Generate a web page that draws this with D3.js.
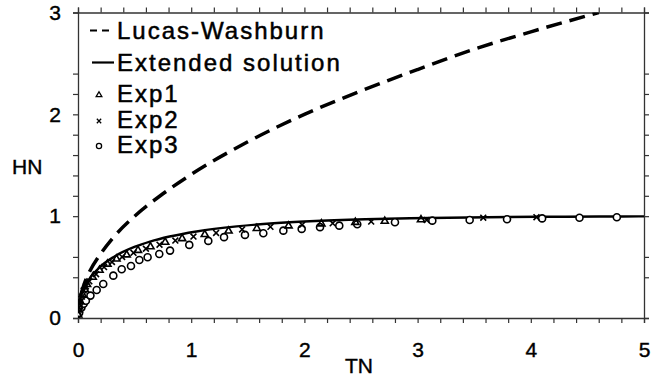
<!DOCTYPE html>
<html lang="en">
  <head>
    <meta charset="utf-8">
    <title>HN vs TN</title>
    <script src="https://cdn.jsdelivr.net/npm/d3@7"></script>
    <style>
      body { margin: 0; background: #fff; }
      text { font-family: "Liberation Sans", Arial, sans-serif; fill: #000; }
    </style>
  </head>
  <body>
    <script>
      var w = 655;
      var h = 376;

      // tick labels
      var xTickLabels = [0, 1, 2, 3, 4, 5];
      var yTickLabels = [0, 1, 2, 3];
      var yMinorTicks = [0, 0.4, 0.6, 1, 1.2, 1.4, 1.6, 1.8, 2, 2.2, 2.4, 3];

      // Lucas-Washburn curve
      var lwT = [0, 0.01, 0.03, 0.06, 0.1, 0.2, 0.3, 0.5, 0.75, 1, 1.5, 2, 2.5, 3, 3.5, 4, 4.6];
      var lwH = [0, 0.14, 0.245, 0.35, 0.45, 0.63, 0.775, 1.0, 1.22, 1.41, 1.73, 2.0, 2.23, 2.44, 2.64, 2.81, 3.0];

      // extended solution
      var extT = [0, 0.005, 0.023, 0.057, 0.111, 0.193, 0.316, 0.504, 0.636, 0.809, 1.047, 1.403, 1.729, 2.046, 2.537, 2.932, 3.615, 4.303, 4.812, 5];
      var extH = [0, 0.1, 0.2, 0.3, 0.4, 0.5, 0.6, 0.7, 0.75, 0.8, 0.85, 0.9, 0.93, 0.95, 0.97, 0.98, 0.99, 0.995, 0.997, 0.998];

      // experiments
      var exp1T = [0.002, 0.006, 0.01, 0.02, 0.04, 0.06, 0.08, 0.13, 0.19, 0.26, 0.34, 0.43, 0.53, 0.64, 0.77, 0.92, 1.12, 1.33, 1.58, 1.86, 2.15, 2.45, 2.71, 3.03];
      var exp1H = [0.03, 0.08, 0.11, 0.16, 0.23, 0.28, 0.33, 0.40, 0.47, 0.53, 0.58, 0.62, 0.665, 0.70, 0.745, 0.78, 0.82, 0.855, 0.88, 0.905, 0.925, 0.94, 0.95, 0.965];
      var exp2T = [0.004, 0.008, 0.015, 0.02, 0.035, 0.05, 0.07, 0.1, 0.16, 0.23, 0.3, 0.39, 0.49, 0.6, 0.72, 0.86, 1.02, 1.22, 1.45, 1.7, 1.98, 2.25, 2.59, 3.08, 3.58, 4.05];
      var exp2H = [0.06, 0.1, 0.14, 0.16, 0.21, 0.27, 0.31, 0.36, 0.43, 0.5, 0.55, 0.6, 0.64, 0.68, 0.72, 0.76, 0.80, 0.835, 0.87, 0.895, 0.915, 0.93, 0.947, 0.962, 0.985, 0.99];
      var exp3T = [0.01, 0.03, 0.05, 0.07, 0.11, 0.165, 0.223, 0.312, 0.386, 0.468, 0.542, 0.615, 0.718, 0.813, 0.983, 1.151, 1.29, 1.475, 1.637, 1.814, 1.976, 2.138, 2.308, 2.467, 2.80, 3.13, 3.46, 3.79, 4.10, 4.43, 4.76];
      var exp3H = [0.05, 0.1, 0.14, 0.17, 0.22, 0.275, 0.334, 0.416, 0.479, 0.511, 0.570, 0.597, 0.629, 0.662, 0.718, 0.757, 0.794, 0.816, 0.832, 0.858, 0.875, 0.892, 0.907, 0.921, 0.94, 0.956, 0.963, 0.970, 0.978, 0.985, 0.99];

      var legendNames = ["Lucas-Washburn", "Extended solution", "Exp1", "Exp2", "Exp3"];

      var padL = 78, padR = 644, padT = 12.5, padB = 318;

      var xScale = d3.scaleLinear().domain([0, 5]).range([padL, padR]);
      var yScale = d3.scaleLinear().domain([0, 3]).range([padB, padT]);

      var svg = d3.select("body").append("svg")
        .attr("width", w)
        .attr("height", h);

      svg.append("clipPath").attr("id", "clip")
        .append("rect")
        .attr("x", padL).attr("y", padT)
        .attr("width", padR - padL).attr("height", padB - padT);

      var xMinor = d3.range(0, 26).map(function (i) { return i / 5; });
      var fmtX = function (d) { return xTickLabels.indexOf(d) >= 0 ? d : ""; };
      var fmtY = function (d) { return yTickLabels.indexOf(d) >= 0 ? d : ""; };

      var axisColor = "#333";

      var gx = svg.append("g")
        .attr("transform", "translate(0," + padB + ")")
        .call(d3.axisBottom(xScale).tickValues(xMinor).tickFormat(fmtX).tickSize(5).tickPadding(19));
      var gy = svg.append("g")
        .attr("transform", "translate(" + padL + ",0)")
        .call(d3.axisLeft(yScale).tickValues(yMinorTicks).tickFormat(fmtY).tickSize(5).tickPadding(12));
      var gt = svg.append("g")
        .attr("transform", "translate(0," + padT + ")")
        .call(d3.axisTop(xScale).tickValues(xMinor).tickFormat("").tickSize(5));
      var gr = svg.append("g")
        .attr("transform", "translate(" + padR + ",0)")
        .call(d3.axisRight(yScale).tickValues(yMinorTicks).tickFormat("").tickSize(5));

      [gx, gy, gt, gr].forEach(function (g) {
        g.selectAll(".domain").attr("stroke", axisColor).attr("stroke-width", 1.3);
        g.selectAll(".tick line").attr("stroke", axisColor).attr("stroke-width", 1.2);
        g.selectAll(".tick text")
          .attr("font-size", "21px")
          .attr("font-family", "Liberation Sans, Arial, sans-serif")
          .attr("fill", "#000")
          .attr("stroke", "#000")
          .attr("stroke-width", 0.4);
      });

      svg.append("text").attr("x", 12).attr("y", 174).attr("font-size", "21px")
        .attr("stroke", "#000").attr("stroke-width", 0.4).text("HN");
      svg.append("text").attr("x", 359).attr("y", 373).attr("text-anchor", "middle").attr("font-size", "21px")
        .attr("stroke", "#000").attr("stroke-width", 0.4).text("TN");

      var plot = svg.append("g").attr("clip-path", "url(#clip)");

      var line = d3.line()
        .x(function (d) { return xScale(d[0]); })
        .y(function (d) { return yScale(d[1]); })
        .curve(d3.curveMonotoneX);

      plot.append("path")
        .datum(d3.zip(lwT, lwH))
        .attr("d", line)
        .attr("fill", "none")
        .attr("stroke", "#000")
        .attr("stroke-width", 3.5)
        .attr("stroke-dasharray", "16,8");

      plot.append("path")
        .datum(d3.zip(extT, extH))
        .attr("d", line)
        .attr("fill", "none")
        .attr("stroke", "#000")
        .attr("stroke-width", 2.4);

      var tri = d3.symbol().type(d3.symbolTriangle).size(22);
      var cross = d3.symbol().type(d3.symbolX).size(24);

      plot.selectAll(".exp3")
        .data(d3.zip(exp3T, exp3H))
        .enter().append("circle")
        .attr("class", "exp3")
        .attr("cx", function (d) { return xScale(d[0]); })
        .attr("cy", function (d) { return yScale(d[1]); })
        .attr("r", 3.5)
        .attr("fill", "#fff")
        .attr("stroke", "#000")
        .attr("stroke-width", 1.6);

      plot.selectAll(".exp1")
        .data(d3.zip(exp1T, exp1H))
        .enter().append("path")
        .attr("class", "exp1")
        .attr("transform", function (d) { return "translate(" + xScale(d[0]) + "," + yScale(d[1]) + ")"; })
        .attr("d", tri)
        .attr("fill", "none")
        .attr("stroke", "#000")
        .attr("stroke-width", 1.6);

      plot.selectAll(".exp2")
        .data(d3.zip(exp2T, exp2H))
        .enter().append("path")
        .attr("class", "exp2")
        .attr("transform", function (d) { return "translate(" + xScale(d[0]) + "," + yScale(d[1]) + ")"; })
        .attr("d", cross)
        .attr("fill", "#000")
        .attr("stroke", "#000")
        .attr("stroke-width", 1.6);

      // legend
      var legY = [38.5, 70.5, 102, 128, 153];
      var legend = svg.append("g");
      legend.selectAll("text")
        .data(legendNames)
        .enter().append("text")
        .attr("x", 117)
        .attr("y", function (d, i) { return legY[i]; })
        .attr("font-size", "24px")
        .attr("letter-spacing", "2px")
        .attr("stroke", "#000")
        .attr("stroke-width", 0.5)
        .text(function (d) { return d; });

      legend.append("line")
        .attr("x1", 90).attr("x2", 114)
        .attr("y1", legY[0] - 8).attr("y2", legY[0] - 8)
        .attr("stroke", "#000").attr("stroke-width", 2.2)
        .attr("stroke-dasharray", "7,5");
      legend.append("line")
        .attr("x1", 92).attr("x2", 114)
        .attr("y1", legY[1] - 8).attr("y2", legY[1] - 8)
        .attr("stroke", "#000").attr("stroke-width", 2.2);
      legend.append("path")
        .attr("transform", "translate(99," + (legY[2] - 7) + ")")
        .attr("d", d3.symbol().type(d3.symbolTriangle).size(14))
        .attr("fill", "none").attr("stroke", "#000").attr("stroke-width", 1.3);
      legend.append("path")
        .attr("transform", "translate(99," + (legY[3] - 7) + ")")
        .attr("d", d3.symbol().type(d3.symbolX).size(14))
        .attr("fill", "#000").attr("stroke", "#000").attr("stroke-width", 1.3);
      legend.append("circle")
        .attr("cx", 99).attr("cy", legY[4] - 7).attr("r", 2.6)
        .attr("fill", "none").attr("stroke", "#000").attr("stroke-width", 1.3);
    </script>
  </body>
</html>
